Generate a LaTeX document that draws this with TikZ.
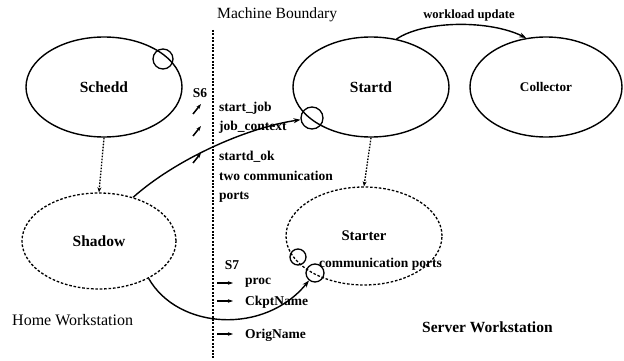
\documentclass[tikz,border=0pt]{standalone}
\usepackage{fontspec}
\setmainfont{Liberation Serif}
\usetikzlibrary{shapes.geometric,arrows.meta}
\begin{document}
\begin{tikzpicture}[x=1pt,y=-1pt,
  daemon/.style={ellipse,draw,line width=1.4pt,inner sep=0pt,
    minimum width=156pt,minimum height=100pt,
    font=\fontsize{15.5}{17}\selectfont\bfseries},
  remote/.style={daemon,line width=1.3pt,dash pattern=on 2.6pt off 1.8pt},
  port/.style={circle,draw,line width=1.3pt,inner sep=0pt},
  msg/.style={anchor=west,inner sep=0pt,font=\fontsize{13.5}{15}\selectfont\bfseries},
  tag/.style={inner sep=0pt,font=\fontsize{13.5}{15}\selectfont\bfseries},
  spawn/.style={line width=1.3pt,dash pattern=on 1.6pt off 1.4pt,
    -{Stealth[length=5pt,width=4pt]}},
  link/.style={line width=1.4pt,-{Stealth[length=7pt,width=5pt]}},
  tick/.style={line width=1.5pt,-{Stealth[length=5pt,width=3.5pt]}}
]
\useasboundingbox (0,0) rectangle (624,361);

% machine boundary
\coordinate (btop) at (213,30);
\coordinate (bbot) at (213,358);
\draw[line width=1.5pt,dash pattern=on 2pt off 1.4pt] (btop) -- (bbot);
\node[anchor=west,inner sep=0pt,font=\fontsize{15.6}{17}\selectfont] (mb) at (217,15) {Machine Boundary};

% daemons
\node[daemon] (schedd) at (104,87) {Schedd};
\node[daemon] (startd) at (371,87) {Startd};
\node[daemon,minimum width=152pt,font=\fontsize{13.2}{15}\selectfont\bfseries] (coll) at (546,87) {Collector};
\node[remote,minimum width=154pt,minimum height=96pt] (shadow) at (99,241) {Shadow};
\node[remote,minimum height=98pt,font=\fontsize{14.7}{16}\selectfont\bfseries] (starter) at (364,236) {Starter};

% communication ports
\node[port,minimum size=20pt] (pschedd) at (163,59) {};
\node[port,minimum size=22pt] (pstartd) at (312,118) {};
\node[port,minimum size=16pt] (pst1) at (298,257) {};
\node[port,minimum size=18pt] (pst2) at (315,273) {};

% process creation
\draw[spawn] (schedd.south) -- (shadow.north);
\draw[spawn] (startd.south) -- (starter.north);

% messages
\draw[link] (shadow.52) .. controls (175,160) and (245,128) .. (pstartd);
\draw[link] (shadow.-37) .. controls (178,330) and (265,335) .. (pst2);
\draw[link] (startd.62) .. controls (425,20) and (490,20) .. (coll.112);
\node[tag,font=\fontsize{12.6}{14}\selectfont\bfseries] (wl) at (469,15) {workload update};

% S6 exchange
\node[tag] (s6) at (200,93) {S6};
\draw[tick] (193,114) -- (201,104);
\draw[tick] (193,136) -- (201,126);
\draw[tick] (193,163) -- (201,153);
\node[msg] (m1) at (219,108) {start\_job};
\node[msg] (m2) at (219,127) {job\_context};
\node[msg] (m3) at (219,157) {startd\_ok};
\node[msg] (m4) at (219,176) {two communication};
\node[msg] (m5) at (219,197) {ports};

% S7 exchange
\node[tag] (s7) at (232,265) {S7};
\draw[tick] (217,283) -- (233,283);
\draw[tick] (217,301) -- (233,301);
\draw[tick] (217,334) -- (233,334);
\node[msg] (m6) at (245,283) {proc};
\node[msg] (m7) at (245,302) {CkptName};
\node[msg] (m8) at (245,335) {OrigName};

\node[msg] (cp) at (319,264) {communication ports};

% workstations
\node[anchor=west,inner sep=0pt,font=\fontsize{16}{18}\selectfont] (home) at (12,320) {Home Workstation};
\node[anchor=west,inner sep=0pt,font=\fontsize{15.5}{17}\selectfont\bfseries] (server) at (422,327) {Server Workstation};
\end{tikzpicture}
\end{document}
